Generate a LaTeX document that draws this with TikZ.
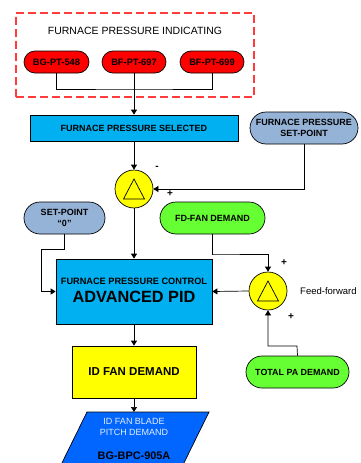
\documentclass[tikz,border=0pt]{standalone}
\usepackage{fontspec}
\setmainfont{Liberation Sans}
\usetikzlibrary{arrows.meta,shapes.geometric,calc}
\definecolor{pillred}{HTML}{FF0000}
\definecolor{boxcyan}{HTML}{00B0F0}
\definecolor{slate}{HTML}{95B3D7}
\definecolor{lgreen}{HTML}{66FF33}
\definecolor{yel}{HTML}{FFFF00}
\definecolor{pblue}{HTML}{0066FF}
\definecolor{dashred}{HTML}{FF3B3B}
\definecolor{paletext}{HTML}{E6EEFF}
\tikzset{
  pill/.style={draw=black, line width=0.7pt, rounded corners=#1, inner sep=0pt, align=center, font=\bfseries\fontsize{9}{11}\selectfont},
  sqbox/.style={draw=black, line width=0.7pt, inner sep=0pt, align=center},
  summer/.style={draw=black, line width=0.7pt, circle, fill=yel, minimum size=38pt, inner sep=0pt},
  conn/.style={line width=0.7pt},
  arr/.style={line width=0.7pt, -{Triangle[length=5pt,width=6pt]}},
  sign/.style={font=\fontsize{10}{10}\selectfont\bfseries, inner sep=0pt},
}
\begin{document}
\begin{tikzpicture}[x=1pt,y=-1pt]
\useasboundingbox (0,0) rectangle (360,463);
\clip (0,0) rectangle (360,463);
% dashed group
\node[draw=dashred, dash pattern=on 8pt off 4pt, line width=1.3pt, minimum width=238pt, minimum height=84pt, inner sep=0pt] (grp) at (135,55) {};
\node[font=\fontsize{10.5}{12}\selectfont] (title) at (135,31) {FURNACE PRESSURE INDICATING};
\node[pill=11pt, fill=pillred, minimum width=65pt, minimum height=22pt, font=\bfseries\fontsize{9.3}{10}\selectfont] (p1) at (56.5,62) {BG-PT-548};
\node[pill=11pt, fill=pillred, minimum width=64pt, minimum height=22pt, font=\bfseries\fontsize{9.3}{10}\selectfont] (p2) at (134,62) {BF-PT-697};
\node[pill=11pt, fill=pillred, minimum width=64pt, minimum height=22pt, font=\bfseries\fontsize{9.3}{10}\selectfont] (p3) at (212,62) {BF-PT-699};
\coordinate (j1) at (134,89);
\draw[conn] (p1.south) |- (j1) -| (p3.south);
% FPS
\node[sqbox, fill=boxcyan, minimum width=208pt, minimum height=26pt, font=\bfseries\fontsize{9}{11}\selectfont] (fps) at (134,128) {FURNACE PRESSURE SELECTED};
\draw[arr] (p2.south) -- (fps.north);
\node[pill=16pt, fill=slate, minimum width=108pt, minimum height=32pt] (fpsp) at (304,128) {FURNACE PRESSURE\\SET-POINT};
% summer 1
\node[summer] (s1) at (134,189) {};
\draw[line width=0.7pt] ($(s1.center)+(0,-10)$) -- ++(10.5,20) -- ++(-21,0) -- cycle;
\draw[arr] (fps.south) -- (s1.north);
\draw[arr] (fpsp.south) |- (s1.east);
\node[sign] at (157,168) {-};
\node[sign] at (170,194) {+};
% set-point 0 and FD fan
\node[pill=16pt, fill=slate, minimum width=81pt, minimum height=32pt] (sp0) at (64.5,218) {SET-POINT\\“0”};
\node[pill=16pt, fill=lgreen, minimum width=105pt, minimum height=32pt] (fd) at (212.5,218) {FD-FAN DEMAND};
% PID
\node[sqbox, fill=boxcyan, minimum width=156pt, minimum height=65pt] (pid) at (134,291.5) {};
\node[inner sep=0pt, font=\bfseries\fontsize{9.2}{10}\selectfont] (pidl1) at (134,281.5) {FURNACE PRESSURE CONTROL};
\node[inner sep=0pt, font=\bfseries\fontsize{16.3}{17}\selectfont] (pidl2) at (134,296.5) {ADVANCED PID};
\draw[arr] (s1.south) -- (pid.north);
\coordinate (k1) at (41,249);
\draw[arr] (sp0.south) |- (k1) |- (pid.west);
% summer 2
\node[summer] (s2) at (268,291) {};
\draw[line width=0.7pt] ($(s2.center)+(0,-10)$) -- ++(10.5,20) -- ++(-21,0) -- cycle;
\coordinate (k2) at (212,254);
\draw[arr] (fd.south) |- (k2) -| (s2.north);
\draw[arr] (s2.west) -- (pid.east);
\node[sign] at (284,263) {+};
\node[sign] at (291,317) {+};
\node[font=\fontsize{9.5}{11}\selectfont, anchor=west, inner sep=0pt] (ff) at (300,291) {Feed-forward};
% total PA
\node[pill=16pt, fill=lgreen, minimum width=103pt, minimum height=32pt, font=\bfseries\fontsize{8.9}{10}\selectfont] (tpa) at (297.5,372) {TOTAL PA DEMAND};
\coordinate (k3) at (297,346);
\draw[arr] (tpa.north) -- (k3) -| (s2.south);
% ID fan demand
\node[sqbox, fill=yel, minimum width=124pt, minimum height=52pt, font=\bfseries\fontsize{11.5}{13}\selectfont] (idf) at (134,372) {ID FAN DEMAND};
\draw[arr] (pid.south) -- (idf.north);
% parallelogram
\draw[line width=0.7pt, fill=pblue] (87,412) -- (209,412) -- (180,471) -- (58,471) -- cycle;
\coordinate (partop) at (134,412);
\draw[arr] (idf.south) -- (partop);
\node[align=center, text=paletext, font=\fontsize{9}{10.5}\selectfont] (pt1) at (134,427) {ID FAN BLADE\\PITCH DEMAND};
\node[font=\bfseries\fontsize{10.9}{12}\selectfont] (pt2) at (134,456) {BG-BPC-905A};
\end{tikzpicture}
\end{document}
